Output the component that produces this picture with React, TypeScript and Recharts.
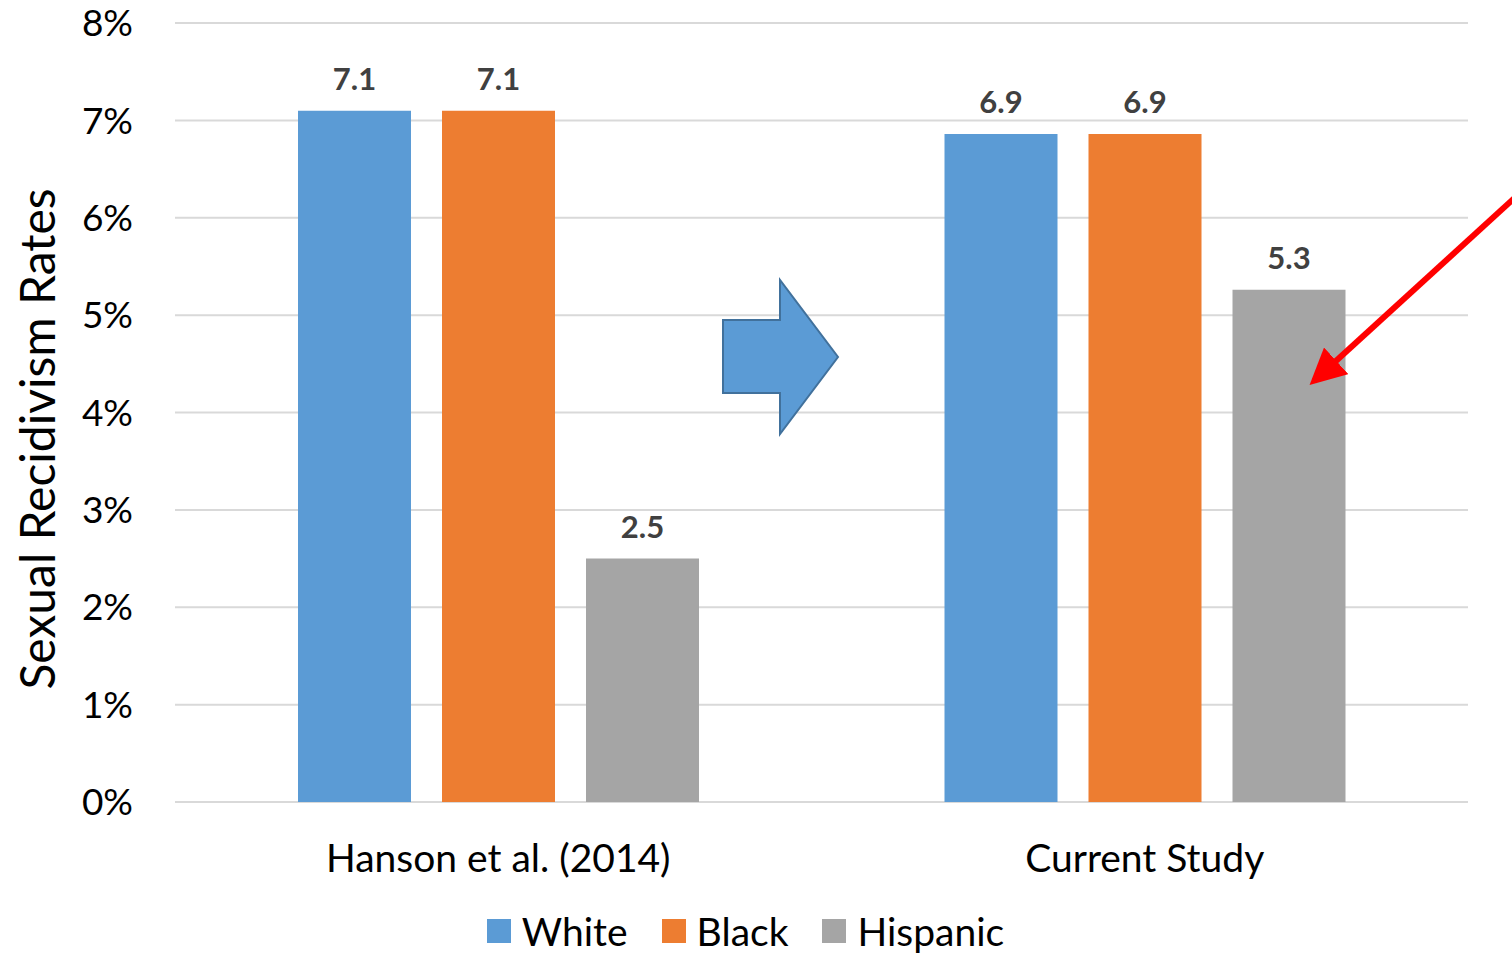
import { Bar, BarChart, CartesianGrid, LabelList, Legend, XAxis, YAxis } from "recharts";

const studies = ["Hanson et al. (2014)", "Current Study"];
const white = [7.1, 6.86];
const black = [7.1, 6.86];
const hispanic = [2.5, 5.26];
const yTicks = [0, 1, 2, 3, 4, 5, 6, 7, 8];

const series = [
  { key: "White", values: white, color: "#5b9bd5" },
  { key: "Black", values: black, color: "#ed7d31" },
  { key: "Hispanic", values: hispanic, color: "#a5a5a5" },
];

const rows = studies.map((study, i) => {
  const row: Record<string, string | number> = { study };
  for (const s of series) row[s.key] = s.values[i];
  return row;
});

const FONT = "Lato, 'Open Sans', sans-serif";

// legend drawn from the series list so order stays White, Black, Hispanic
function LegendRow() {
  return (
    <div style={{ height: 44, display: "flex", justifyContent: "center", alignItems: "center", gap: 34, paddingLeft: 23 }}>
      {series.map((s) => (
        <div
          key={s.key}
          style={{ display: "flex", alignItems: "center", gap: 11, fontSize: 39, lineHeight: "44px", fontFamily: FONT, color: "#000" }}
        >
          <span style={{ width: 24, height: 24, background: s.color, display: "inline-block" }} />
          {s.key}
        </div>
      ))}
    </div>
  );
}

export default function App() {
  return (
    <div style={{ position: "absolute", left: 0, top: 0, width: 1512, height: 953, background: "#fff", fontFamily: FONT }}>
      <BarChart
        width={1512}
        height={953}
        data={rows}
        margin={{ top: 23, right: 44, left: 0, bottom: 0 }}
        barSize={113}
        barGap={31}
      >
        <CartesianGrid vertical={false} stroke="#d9d9d9" strokeWidth={2} />
        <XAxis
          dataKey="study"
          height={107}
          tickLine={false}
          axisLine={false}
          tickMargin={36}
          tick={{ fill: "#000", fontSize: 39, fontFamily: FONT }}
        />
        <YAxis
          domain={[0, 8]}
          ticks={yTicks}
          width={175}
          tickLine={false}
          axisLine={false}
          tickMargin={36}
          tickFormatter={(v: number) => `${v}%`}
          tick={{ fill: "#000", fontSize: 37, fontFamily: FONT }}
          label={{
            content: () => (
              <text
                x={36}
                y={439}
                transform="rotate(-90 36 439)"
                textAnchor="middle"
                dominantBaseline="central"
                fontSize={48}
                fontFamily={FONT}
                fill="#000"
              >
                Sexual Recidivism Rates
              </text>
            ),
          }}
        />
        <Legend verticalAlign="bottom" content={() => <LegendRow />} />
        {series.map((s) => (
          <Bar key={s.key} dataKey={s.key} fill={s.color} isAnimationActive={false}>
            <LabelList
              dataKey={s.key}
              position="top"
              offset={21}
              formatter={(v: number) => v.toFixed(1)}
              style={{ fill: "#404040", fontSize: 31, fontWeight: 700, fontFamily: FONT }}
            />
          </Bar>
        ))}
      </BarChart>
      <svg width={1512} height={953} style={{ position: "absolute", left: 0, top: 0, pointerEvents: "none" }}>
        <polygon
          points="723,320 780,320 780,280 838,357 780,434 780,393 723,393"
          fill="#5b9bd5"
          stroke="#41719c"
          strokeWidth={2}
        />
        <defs>
          <marker id="redHead" markerWidth="6" markerHeight="6" refX="5" refY="3" orient="auto" markerUnits="strokeWidth">
            <path d="M0,0 L6,3 L0,6 Z" fill="#ff0000" />
          </marker>
        </defs>
        <line x1={1520} y1={193} x2={1314} y2={381} stroke="#ff0000" strokeWidth={6} markerEnd="url(#redHead)" />
      </svg>
    </div>
  );
}
